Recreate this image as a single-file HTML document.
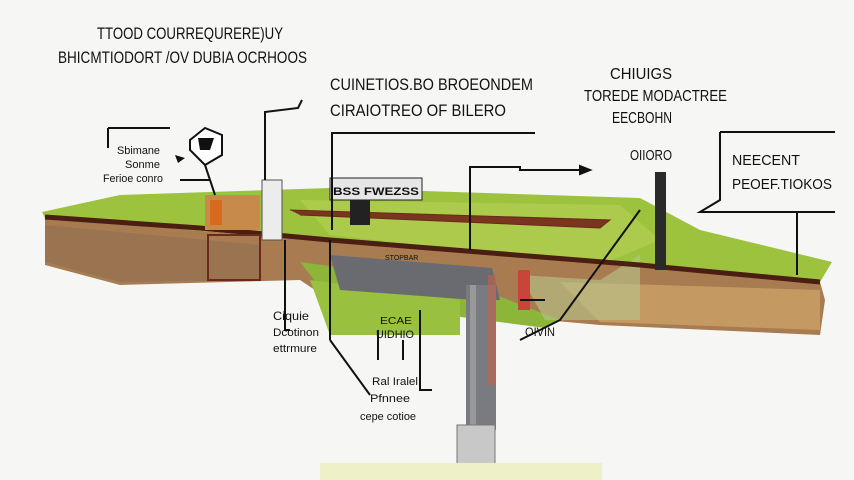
<!DOCTYPE html>
<html><head><meta charset="utf-8"><style>
html,body{margin:0;padding:0;background:#f6f6f5;}
svg{display:block}
text{font-family:"Liberation Sans",sans-serif;fill:#111;}
</style></head><body>
<svg width="854" height="480" viewBox="0 0 854 480" xmlns="http://www.w3.org/2000/svg">
<rect width="854" height="480" fill="#f6f6f5"/>
<!-- grass top -->
<polygon points="42,212 120,195 330,188 640,198 700,230 832,262 820,282 45,218" fill="#9cc23e"/>
<polygon points="300,200 620,205 660,240 600,265 330,235" fill="#b3cf52" opacity="0.7"/>
<!-- soil front -->
<polygon points="45,218 820,282 825,300 820,335 600,325 545,320 330,300 300,280 120,285 45,265" fill="#a87c50"/>
<polygon points="45,225 260,245 260,280 120,282 45,262" fill="#9a7450"/>
<polygon points="560,282 820,290 820,330 600,322" fill="#c49a62"/>
<!-- green under area -->
<polygon points="300,262 470,285 560,320 545,328 330,300" fill="#8cb53a"/>
<polygon points="310,280 460,300 460,335 330,335" fill="#9ac040"/>
<polygon points="520,275 600,280 640,255 640,320 545,320" fill="#b8c78a" opacity="0.6"/>
<!-- front edge -->
<polyline points="45,217 200,228 330,240 640,265 820,282" fill="none" stroke="#4a1e10" stroke-width="5"/>
<polyline points="290,210 610,220 600,228 300,215" fill="#7a3520" stroke="#6a2a18" stroke-width="1"/>
<!-- pipe -->
<polygon points="330,255 492,268 500,300 475,300 340,290" fill="#6a6b70"/>
<rect x="466" y="285" width="30" height="145" fill="#7a7b80"/>
<rect x="470" y="285" width="6" height="145" fill="#999"/>
<rect x="457" y="425" width="38" height="45" fill="#c8c8c8" stroke="#777"/>
<text x="385" y="260" font-size="7" fill="#ddd">STOPBAR</text>
<!-- red pit -->
<rect x="518" y="270" width="12" height="40" fill="#c9453a"/>
<rect x="488" y="275" width="8" height="110" fill="#c5604a" opacity="0.6"/>
<!-- left box -->
<rect x="208" y="235" width="52" height="45" fill="none" stroke="#6a2a18" stroke-width="2"/>
<rect x="205" y="195" width="55" height="35" fill="#c88a4a"/>
<rect x="210" y="200" width="12" height="25" fill="#d86a20"/>
<rect x="262" y="180" width="20" height="60" fill="#ececec" stroke="#555"/>
<!-- bottom pale block -->
<rect x="320" y="463" width="282" height="17" fill="#eef0c8"/>
<!-- sign -->
<rect x="330" y="178" width="92" height="22" fill="#e6e6e6" stroke="#222"/>
<text x="333" y="195" font-size="11" font-weight="bold" textLength="86" lengthAdjust="spacingAndGlyphs">BSS FWEZSS</text>
<rect x="350" y="200" width="20" height="25" fill="#222"/>
<!-- black post right -->
<rect x="655" y="172" width="11" height="98" fill="#2a2a2a"/>
<!-- lines -->
<g stroke="#111" stroke-width="2" fill="none">
<polyline points="332,230 332,133 535,133"/>
<polyline points="265,180 265,112 298,108 302,100"/>
<polyline points="470,250 470,167 520,167 520,170 582,170"/>
<polygon points="580,166 590,170 580,174" fill="#111"/>
<polyline points="720,132 835,132"/>
<polyline points="720,132 720,200 700,212 835,212"/>
<line x1="797" y1="212" x2="797" y2="275"/>
<line x1="108" y1="128" x2="170" y2="128"/>
<line x1="108" y1="128" x2="108" y2="148"/>
<polygon points="190,140 205,128 222,135 222,155 205,165 190,150" fill="#fff"/>
<line x1="205" y1="165" x2="215" y2="195"/>
<line x1="180" y1="180" x2="210" y2="180"/>
<polyline points="285,240 285,330 290,330"/>
<line x1="330" y1="240" x2="330" y2="340" />
<polyline points="330,340 370,395"/>
<polyline points="420,310 420,390 432,390"/>
<line x1="378" y1="330" x2="378" y2="360"/>
<line x1="403" y1="340" x2="403" y2="360"/>
<polyline points="640,210 560,320 520,340"/>
<line x1="520" y1="300" x2="545" y2="300"/>
</g>
<polygon points="198,138 214,138 210,150 200,150" fill="#111"/>
<polygon points="175,155 185,158 178,163" fill="#111"/>
<!-- texts -->
<g lengthAdjust="spacingAndGlyphs">
<text x="97" y="39" font-size="17" textLength="186" lengthAdjust="spacingAndGlyphs">TTOOD COURREQURERE)UY</text>
<text x="58" y="63" font-size="17" textLength="249" lengthAdjust="spacingAndGlyphs">BHICMTIODORT /OV DUBIA OCRHOOS</text>
<text x="330" y="90" font-size="17" textLength="203" lengthAdjust="spacingAndGlyphs">CUINETIOS.BO BROEONDEM</text>
<text x="330" y="116" font-size="17" textLength="176" lengthAdjust="spacingAndGlyphs">CIRAIOTREO OF BILERO</text>
<text x="610" y="79" font-size="16" textLength="62" lengthAdjust="spacingAndGlyphs">CHIUIGS</text>
<text x="584" y="101" font-size="16" textLength="143" lengthAdjust="spacingAndGlyphs">TOREDE MODACTREE</text>
<text x="612" y="123" font-size="16" textLength="60" lengthAdjust="spacingAndGlyphs">EECBOHN</text>
<text x="630" y="160" font-size="15" textLength="42" lengthAdjust="spacingAndGlyphs">OIIORO</text>
<text x="732" y="165" font-size="15" textLength="68" lengthAdjust="spacingAndGlyphs">NEECENT</text>
<text x="732" y="189" font-size="15" textLength="100" lengthAdjust="spacingAndGlyphs">PEOEF.TIOKOS</text>
<text x="117" y="154" font-size="11" textLength="43" lengthAdjust="spacingAndGlyphs">Sbimane</text>
<text x="125" y="168" font-size="11" textLength="35" lengthAdjust="spacingAndGlyphs">Sonme</text>
<text x="103" y="182" font-size="11" textLength="60" lengthAdjust="spacingAndGlyphs">Ferioe conro</text>
<text x="273" y="320" font-size="12" textLength="36" lengthAdjust="spacingAndGlyphs">Ciquie</text>
<text x="273" y="336" font-size="11" textLength="46" lengthAdjust="spacingAndGlyphs">Dcotinon</text>
<text x="273" y="352" font-size="11" textLength="44" lengthAdjust="spacingAndGlyphs">ettrmure</text>
<text x="380" y="324" font-size="10" textLength="32" lengthAdjust="spacingAndGlyphs">ECAE</text>
<text x="376" y="338" font-size="11" textLength="38" lengthAdjust="spacingAndGlyphs">UIDHIO</text>
<text x="372" y="385" font-size="11" textLength="46" lengthAdjust="spacingAndGlyphs">Ral Iralel</text>
<text x="370" y="402" font-size="11" textLength="40" lengthAdjust="spacingAndGlyphs">Pfnnee</text>
<text x="360" y="420" font-size="11" textLength="56" lengthAdjust="spacingAndGlyphs">cepe cotioe</text>
<text x="525" y="336" font-size="12" textLength="30" lengthAdjust="spacingAndGlyphs">OIVIN</text>
</g>
</svg>
</body></html>
